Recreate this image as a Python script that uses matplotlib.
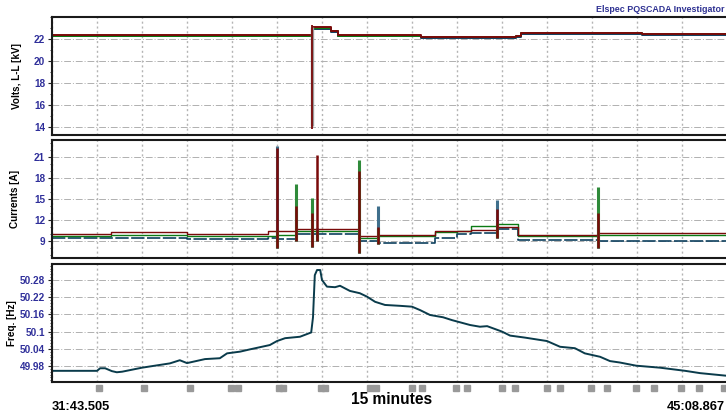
import numpy as np
import matplotlib
matplotlib.use("Agg")
import matplotlib.pyplot as plt
from matplotlib.ticker import MultipleLocator

plt.rcParams['font.family'] = ['Liberation Sans', 'DejaVu Sans']

# ---------------- data (x in minutes from 31:43.505) ----------------
start_label = "31:43.505"
end_label = "45:08.867"

# Voltage L-L [kV] (step levels, red phase; other phases slightly below)
volt_t = [0, 5.78, 5.80, 6.20, 6.35, 8.20, 10.30, 10.42, 13.10, 15.0]
volt_v = [22.35, 22.35, 23.05, 22.75, 22.35, 22.20, 22.30, 22.58, 22.48, 22.48]
volt_green_off = -0.06
volt_blue_off = -0.10
volt_spike_t = 5.78
volt_spike_lo = 13.8
volt_spike_hi = 23.3

# Currents [A] baseline step levels
cur_t = [0, 1.3, 3.0, 4.8, 5.0, 5.42, 6.82, 7.24, 8.5, 9.0, 9.3, 9.89, 10.35, 12.13, 15.0]
cur_red = [9.9, 10.2, 9.9, 10.3, 10.4, 10.6, 9.6, 9.8, 10.3, 10.3, 10.5, 11.0, 9.8, 10.1, 10.1]
cur_green = [9.6, 9.8, 9.6, 9.7, 9.8, 10.3, 9.3, 9.6, 10.2, 10.4, 11.1, 11.4, 9.7, 9.8, 9.8]
cur_blue = [9.3, 9.3, 9.2, 9.3, 9.2, 9.9, 8.9, 8.7, 9.3, 10.0, 10.1, 10.6, 9.1, 9.0, 9.0]

# Current spikes
spike_t = [5.0, 5.42, 5.77, 5.89, 6.82, 7.24, 9.89, 12.13]
spike_red = [22.3, 14.0, 13.0, 21.3, 19.0, 11.0, 13.5, 13.0]
spike_green = [10.5, 17.1, 15.1, 10.5, 20.5, 10.8, 11.5, 16.6]
spike_blue = [22.5, 13.5, 14.0, 10.8, 15.0, 14.0, 14.8, 11.0]
spike_low = [7.9, 9.0, 8.1, 9.0, 7.2, 8.5, 9.3, 7.9]

# Frequency [Hz]
freq_t = [0, 1.0, 1.07, 1.18, 1.33, 1.44, 1.56, 2.0, 2.62, 2.84, 3.0, 3.4, 3.73, 3.89,
          4.18, 4.4, 4.84, 5.0, 5.18, 5.51, 5.76, 5.80, 5.84, 5.89, 5.96, 6.0, 6.11,
          6.29, 6.4, 6.51, 6.62, 6.84, 7.0, 7.18, 7.4, 7.73, 8.0, 8.18, 8.4, 8.69,
          8.89, 9.29, 9.51, 9.67, 10.0, 10.18, 10.51, 11.0, 11.29, 11.62, 11.84,
          12.18, 12.4, 12.62, 12.98, 13.51, 14.07, 14.4, 14.98]
freq_v = [49.963, 49.963, 49.972, 49.972, 49.962, 49.958, 49.960, 49.974, 49.989,
          50.000, 49.990, 50.004, 50.007, 50.024, 50.030, 50.038, 50.053, 50.067,
          50.077, 50.082, 50.097, 50.150, 50.297, 50.315, 50.315, 50.280, 50.257,
          50.255, 50.260, 50.251, 50.242, 50.234, 50.222, 50.204, 50.193, 50.190,
          50.187, 50.175, 50.158, 50.150, 50.140, 50.123, 50.117, 50.119, 50.100,
          50.086, 50.079, 50.067, 50.047, 50.042, 50.024, 50.012, 49.997, 49.992,
          49.981, 49.974, 49.963, 49.955, 49.946]

# Event markers under time axis
event_t = [1.04, 2.04, 3.07, 3.98, 4.13, 5.04, 5.13, 5.98, 6.07, 7.07, 7.2, 8.0, 8.22,
           8.98, 9.22, 10.0, 10.29, 11.0, 11.29, 11.98, 12.33, 12.98, 13.38, 13.98,
           14.38, 14.93]

# ---------------- styling ----------------
RED = "#7a0a0a"
GREEN = "#0b7a14"
BLUE = "#0d3f5e"
FREQ = "#0a3b4b"
TICKC = "#2f2f9a"

W, H = 726, 416
fig = plt.figure(figsize=(W / 100, H / 100), dpi=100)
left = 52 / W
width = 675 / W

def mk_ax(top_px, bot_px):
    return fig.add_axes([left, 1 - bot_px / H, width, (bot_px - top_px) / H])

ax1 = mk_ax(17, 135)
ax2 = mk_ax(140, 258)
ax3 = mk_ax(264, 382)

for ax in (ax1, ax2, ax3):
    ax.set_xlim(0, 15)
    ax.set_xticks(np.arange(0, 16, 1))
    ax.tick_params(axis='x', length=0, labelbottom=False)
    ax.grid(axis='x', color='#b4b4b4', linestyle=(0, (1.5, 2)), linewidth=1.0)
    ax.grid(axis='y', color='#b0b0b0', linestyle=(0, (7, 2, 1, 2)), linewidth=0.7)
    ax.set_axisbelow(True)
    for s in ('top', 'left', 'bottom'):
        ax.spines[s].set_linewidth(1.5)
        ax.spines[s].set_color('#1a1a1a')
    ax.spines['right'].set_visible(False)
    ax.tick_params(axis='y', which='major', length=3, width=0.8, colors='#222222',
                   labelcolor=TICKC, labelsize=7.2, pad=2)
    ax.tick_params(axis='y', which='minor', length=1.8, width=0.6, colors='#222222')

# Voltage panel
vt = np.array(volt_t)
vv = np.array(volt_v)
ax1.step(vt, vv + volt_blue_off, where='post', color=BLUE, lw=1.4)
ax1.step(vt, vv + volt_green_off, where='post', color=GREEN, lw=1.4)
ax1.step(vt, vv, where='post', color=RED, lw=1.4)
ax1.vlines(volt_spike_t, volt_spike_lo + 0.3, volt_spike_hi - 0.2, color='#9a9a9a', lw=2.4)
ax1.vlines(volt_spike_t, volt_spike_lo, volt_spike_hi, color=RED, lw=1.3)
ax1.set_ylim(13.27, 24.0)
ax1.set_yticks([14, 16, 18, 20, 22])
ax1.yaxis.set_minor_locator(MultipleLocator(1))

# Currents panel
ct = np.array(cur_t)
ax2.step(ct, cur_blue, where='post', color=BLUE, lw=1.2, dashes=(8, 1.5))
ax2.step(ct, cur_green, where='post', color=GREEN, lw=1.0)
ax2.step(ct, cur_red, where='post', color=RED, lw=1.0)
ax2.vlines(spike_t, spike_low, spike_blue, color='#3f6f8c', lw=2.2)
ax2.vlines(spike_t, spike_low, spike_green, color='#2f8a3a', lw=2.2)
ax2.vlines(spike_t, spike_low, spike_red, color=RED, lw=1.8)
ax2.set_ylim(6.5, 23.4)
ax2.set_yticks([9, 12, 15, 18, 21])
ax2.yaxis.set_minor_locator(MultipleLocator(1))

# Frequency panel
ax3.plot(freq_t, freq_v, color=FREQ, lw=1.4)
ax3.set_ylim(49.924, 50.336)
ax3.set_yticks([49.98, 50.04, 50.1, 50.16, 50.22, 50.28])
ax3.set_yticklabels(['49.98', '50.04', '50.1', '50.16', '50.22', '50.28'])
ax3.yaxis.set_minor_locator(MultipleLocator(0.01))

for ax in (ax1, ax2, ax3):
    for lab in ax.get_yticklabels():
        lab.set_fontweight('bold')

# event markers beneath the time axis
trans = ax3.get_xaxis_transform()
ax3.plot(event_t, [-0.05] * len(event_t), linestyle='none', marker='s', markersize=3.8,
         color='#999999', transform=trans, clip_on=False)

# axis labels
fig.text(17 / W, 1 - 76 / H, "Volts, L-L [kV]", rotation=90, ha='center', va='center',
         fontsize=7.2, fontweight='bold')
fig.text(15 / W, 1 - 199 / H, "Currents [A]", rotation=90, ha='center', va='center',
         fontsize=7.2, fontweight='bold')
fig.text(12 / W, 1 - 323 / H, "Freq. [Hz]", rotation=90, ha='center', va='center',
         fontsize=7.2, fontweight='bold')

# title & time labels
fig.text(725 / W, 1 - 9 / H, "Elspec PQSCADA Investigator", ha='right', va='center',
         fontsize=6.4, fontweight='bold', color='#2e3192')
fig.text(392 / W, 1 - 400 / H, "15 minutes", ha='center', va='center',
         fontsize=11.2, fontweight='bold')
fig.text(52 / W, 1 - 407 / H, start_label, ha='left', va='center',
         fontsize=9.3, fontweight='bold')
fig.text(725 / W, 1 - 407 / H, end_label, ha='right', va='center',
         fontsize=9.3, fontweight='bold')

fig.savefig("out.png", dpi=100)
